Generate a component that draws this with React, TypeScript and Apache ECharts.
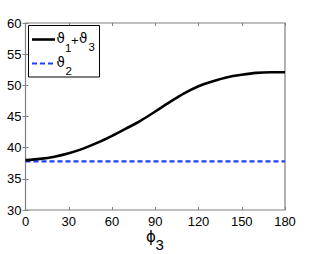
import React, { useEffect, useRef } from "react";
import * as echarts from "echarts";

const phi3 = [0, 10, 20, 30, 40, 50, 60, 70, 80, 90, 100, 110, 120, 130, 140, 150, 160, 170, 180];
const theta13 = [38.0, 38.2, 38.55, 39.1, 39.85, 40.8, 41.9, 43.1, 44.35, 45.8, 47.3, 48.7, 49.85, 50.65, 51.3, 51.7, 52.0, 52.1, 52.1];
const theta2 = [37.8, 37.8, 37.8, 37.8, 37.8, 37.8, 37.8, 37.8, 37.8, 37.8, 37.8, 37.8, 37.8, 37.8, 37.8, 37.8, 37.8, 37.8, 37.8];
const xTicks = [0, 30, 60, 90, 120, 150, 180];
const yTicks = [30, 35, 40, 45, 50, 55, 60];

const FONT = "Liberation Sans, Arial, DejaVu Sans, sans-serif";
const GREEK = "DejaVu Sans, Liberation Sans, sans-serif";

function txt(text: string, x: number, y: number, size: number, family: string) {
  return {
    type: "text",
    x,
    y,
    z: 11,
    style: { text, fontSize: size, fontFamily: family, fill: "#000", align: "left", verticalAlign: "middle" },
  };
}

export default function App() {
  const ref = useRef<HTMLDivElement>(null);
  useEffect(() => {
    if (!ref.current) return;
    const chart = echarts.init(ref.current, undefined, { renderer: "svg" });
    const axisColor = "#808080";
    const xMin = xTicks[0];
    const xMax = xTicks[xTicks.length - 1];
    const yMin = yTicks[0];
    const yMax = yTicks[yTicks.length - 1];
    const commonX = {
      type: "value" as const,
      min: xMin,
      max: xMax,
      interval: 30,
      axisLine: { show: false },
      axisTick: { show: true, inside: true, length: 3, lineStyle: { color: axisColor } },
      splitLine: { show: false },
    };
    const commonY = {
      type: "value" as const,
      min: yMin,
      max: yMax,
      interval: 5,
      axisLine: { show: false },
      axisTick: { show: true, inside: true, length: 3, lineStyle: { color: axisColor } },
      splitLine: { show: false },
    };
    chart.setOption({
      animation: false,
      backgroundColor: "#ffffff",
      grid: {
        left: 25.5,
        right: 31,
        top: 23,
        bottom: 44,
        show: true,
        borderColor: axisColor,
        borderWidth: 1.2,
        backgroundColor: "transparent",
        containLabel: false,
        outerBoundsMode: "none",
      },
      xAxis: [
        {
          ...commonX,
          position: "bottom",
          axisLabel: { show: true, color: "#000", fontFamily: FONT, fontSize: 13, margin: 5 },
        },
        { ...commonX, position: "top", axisLabel: { show: false } },
      ],
      yAxis: [
        {
          ...commonY,
          position: "left",
          axisLabel: { show: true, color: "#000", fontFamily: FONT, fontSize: 13, margin: 4 },
        },
        { ...commonY, position: "right", axisLabel: { show: false } },
      ],
      series: [
        {
          type: "line",
          data: phi3.map((x, i) => [x, theta13[i]]),
          smooth: 0.3,
          symbol: "none",
          lineStyle: { color: "#000000", width: 2.6 },
          z: 3,
        },
        {
          type: "line",
          data: phi3.map((x, i) => [x, theta2[i]]),
          symbol: "none",
          lineStyle: { color: "#1f3fff", width: 2.2, type: [5, 3] },
          z: 2,
        },
      ],
      graphic: [
        {
          type: "rect",
          shape: { x: 28.5, y: 25.5, width: 71, height: 51.5 },
          style: { fill: "#ffffff", stroke: "#000000", lineWidth: 1 },
          z: 10,
        },
        {
          type: "line",
          shape: { x1: 32, y1: 39.5, x2: 55, y2: 39.5 },
          style: { stroke: "#000000", lineWidth: 2.6 },
          z: 11,
        },
        {
          type: "line",
          shape: { x1: 32, y1: 63.5, x2: 55, y2: 63.5 },
          style: { stroke: "#1f3fff", lineWidth: 2.2, lineDash: [5, 3] },
          z: 11,
        },
        txt("ϑ", 56.5, 38, 13.5, GREEK),
        txt("1", 65, 47.5, 11.5, FONT),
        txt("+", 71, 40, 13, FONT),
        txt("ϑ", 79, 38, 13.5, GREEK),
        txt("3", 88.5, 47, 11.5, FONT),
        txt("ϑ", 56.5, 61.7, 13.5, GREEK),
        txt("2", 65.5, 70.5, 11.5, FONT),
        txt("ϕ", 146, 237, 15, GREEK),
        txt("3", 155.5, 244, 15, FONT),
      ],
    });
    return () => chart.dispose();
  }, []);
  return (
    <div
      ref={ref}
      style={{ position: "fixed", left: 0, top: 0, width: 316, height: 254, background: "#fff" }}
    />
  );
}
